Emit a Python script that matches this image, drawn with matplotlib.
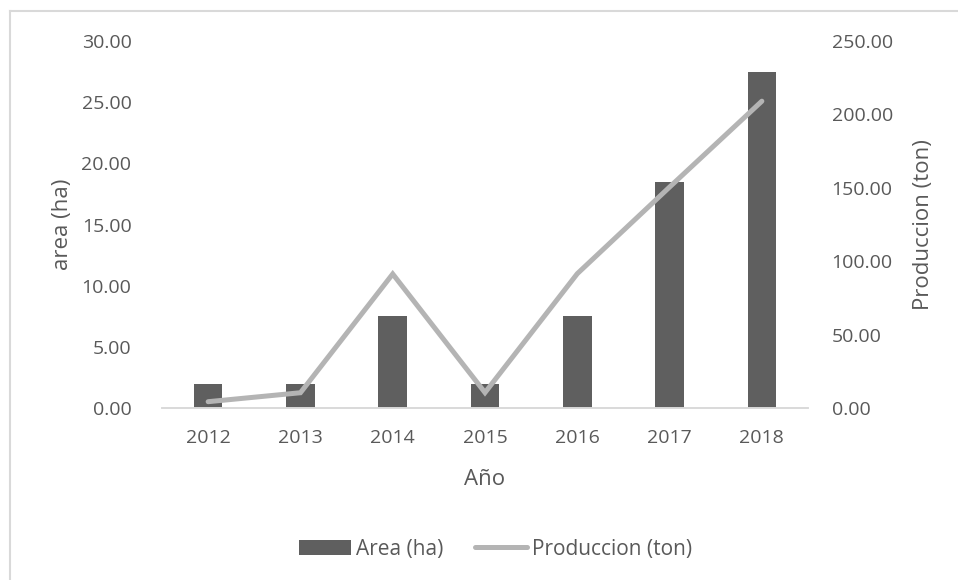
import numpy as np
import matplotlib.pyplot as plt
from matplotlib.lines import Line2D
from matplotlib.ticker import FormatStrFormatter

plt.rcParams['font.family'] = ['Open Sans', 'DejaVu Sans']

years = ['2012', '2013', '2014', '2015', '2016', '2017', '2018']
area = [2.0, 2.0, 7.5, 2.0, 7.5, 18.5, 27.5]
produccion = [4.3, 10.4, 91.3, 10.5, 91.5, 150.5, 209.0]

txt = '#595959'
bar_col = '#5f5f5f'
line_col = '#b4b4b4'
grid_col = '#d9d9d9'


def main():
    fig = plt.figure(figsize=(9.58, 5.8), dpi=100)
    ax = fig.add_axes([162/958, 1 - 408/580, 646/958, 367/580])
    x = np.arange(len(years))

    bars = ax.bar(x, area, width=0.31, color=bar_col, label='Area (ha)', zorder=2)
    ax.set_xlim(-0.5, len(years) - 0.5)
    ax.set_ylim(0, 30)
    ax.set_yticks(np.arange(0, 31, 5))
    ax.yaxis.set_major_formatter(FormatStrFormatter('%.2f'))
    ax.set_xticks(x)
    ax.set_xticklabels(years)

    ax2 = ax.twinx()
    ln, = ax2.plot(x, produccion, color=line_col, lw=3.6, solid_capstyle='round',
                   solid_joinstyle='miter', label='Produccion (ton)', zorder=3)
    ax2.set_ylim(0, 250)
    ax2.set_yticks(np.arange(0, 251, 50))
    ax2.yaxis.set_major_formatter(FormatStrFormatter('%.2f'))

    for a in (ax, ax2):
        for s in ['top', 'left', 'right']:
            a.spines[s].set_visible(False)
        a.spines['bottom'].set_color(grid_col)
        a.spines['bottom'].set_linewidth(1.2)
        a.tick_params(length=0, labelsize=14, labelcolor=txt)
    ax.tick_params(axis='y', pad=22)
    ax2.tick_params(axis='y', pad=17)
    ax.tick_params(axis='x', pad=15)

    ax.set_ylabel('area (ha)', fontsize=16, color=txt)
    ax.yaxis.set_label_coords(-0.138, 0.5)
    ax2.set_ylabel('Produccion (ton)', fontsize=16, color=txt)
    ax2.yaxis.set_label_coords(1.1625, 0.5)
    ax.set_xlabel('Año', fontsize=16, color=txt)
    ax.xaxis.set_label_coords(0.5, -0.165)

    fig.legend(handles=[bars, ln], loc='center', bbox_to_anchor=(0.517, 0.053),
               ncol=2, frameon=False, fontsize=15, labelcolor=txt,
               handlelength=2.5, handletextpad=0.24, columnspacing=1.5)

    # chart area border (only left/top visible in the crop)
    fig.add_artist(Line2D([10/958, 10/958], [0, 1 - 11/580], color=grid_col, lw=1.5))
    fig.add_artist(Line2D([10/958, 1], [1 - 11/580, 1 - 11/580], color=grid_col, lw=1.5))

    fig.savefig('out.png', dpi=100)


if __name__ == '__main__':
    main()
